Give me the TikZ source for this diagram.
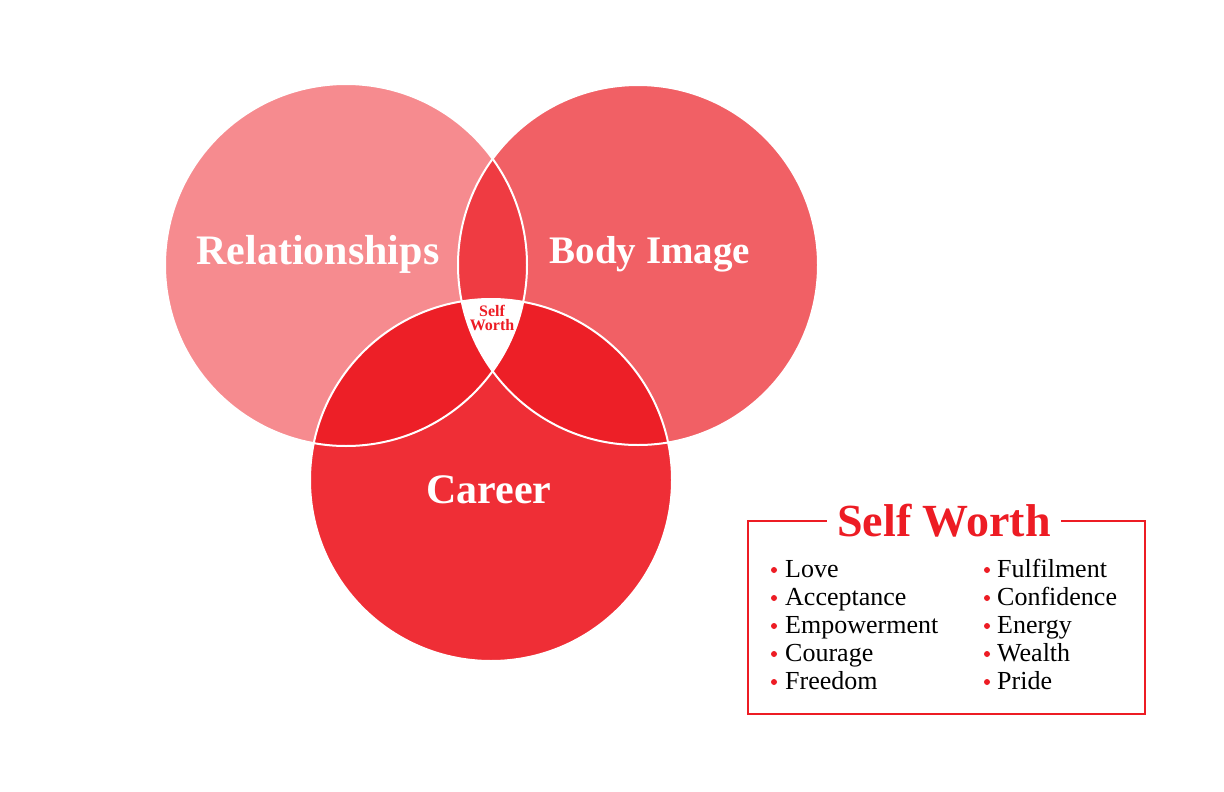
\documentclass[tikz,border=0pt]{standalone}
\usepackage{fontspec}
\setmainfont{Liberation Serif}
\definecolor{relc}{HTML}{F68B8F}
\definecolor{bodyc}{HTML}{F16065}
\definecolor{carc}{HTML}{EF2E36}
\definecolor{lensc}{HTML}{EF3B42}
\definecolor{darkc}{HTML}{ED1F27}
\definecolor{swred}{HTML}{ED1C24}
\tikzset{
  ringline/.style={draw=white, line width=2pt},
  biglabel/.style={text=white, font=\fontsize{40}{42}\selectfont\bfseries},
  listitem/.style={anchor=base west, inner sep=0pt, font=\fontsize{26}{28}\selectfont, text=black},
  bulletdot/.style={circle, fill=swred, inner sep=0pt, minimum size=6pt},
}
\begin{document}
\begin{tikzpicture}[x=1pt,y=-1pt]
\useasboundingbox (0,0) rectangle (1224,792);
\fill[white] (0,0) rectangle (1224,792);
\def\cA{(346,265) circle[radius=181]}
\def\cB{(638,265) circle[radius=180]}
\def\cC{(491,480) circle[radius=181]}
\fill[relc] \cA;
\fill[bodyc] \cB;
\fill[carc] \cC;
\begin{scope}\clip \cA; \fill[lensc] \cB; \end{scope}
\begin{scope}\clip \cA; \fill[darkc] \cC; \end{scope}
\begin{scope}\clip \cB; \fill[darkc] \cC; \end{scope}
\begin{scope}\clip \cA; \clip \cB; \fill[white] \cC; \end{scope}
\draw[ringline] \cA;
\draw[ringline] \cB;
\draw[ringline] \cC;
\node[biglabel, font=\fontsize{42}{44}\selectfont\bfseries] (rel) at (318,254) {Relationships};
\node[biglabel, font=\fontsize{39}{42}\selectfont\bfseries] (body) at (650,254) {Body Image};
\node[biglabel, font=\fontsize{42}{44}\selectfont\bfseries] (car) at (489,490) {Career};
\node[text=swred, font=\fontsize{16}{14}\selectfont\bfseries, align=center, inner sep=0pt] (core) at (492,318) {Self\\Worth};
% legend
\draw[swred, line width=1.5pt] (748,521) rectangle (1145,714);
\node[fill=white, text=swred, font=\fontsize{46}{48}\selectfont\bfseries, inner xsep=10pt, inner ysep=0pt] (title) at (944,521) {Self Worth};
\foreach \t [count=\i] in {Love,Acceptance,Empowerment,Courage,Freedom}{
  \node[bulletdot] (lb\i) at (774,{570+28*(\i-1)}) {};
  \node[listitem] (lt\i) at (785,{577+28*(\i-1)}) {\t};
}
\foreach \t [count=\i] in {Fulfilment,Confidence,Energy,Wealth,Pride}{
  \node[bulletdot] (rb\i) at (987,{570+28*(\i-1)}) {};
  \node[listitem] (rt\i) at (997,{577+28*(\i-1)}) {\t};
}
\end{tikzpicture}
\end{document}
